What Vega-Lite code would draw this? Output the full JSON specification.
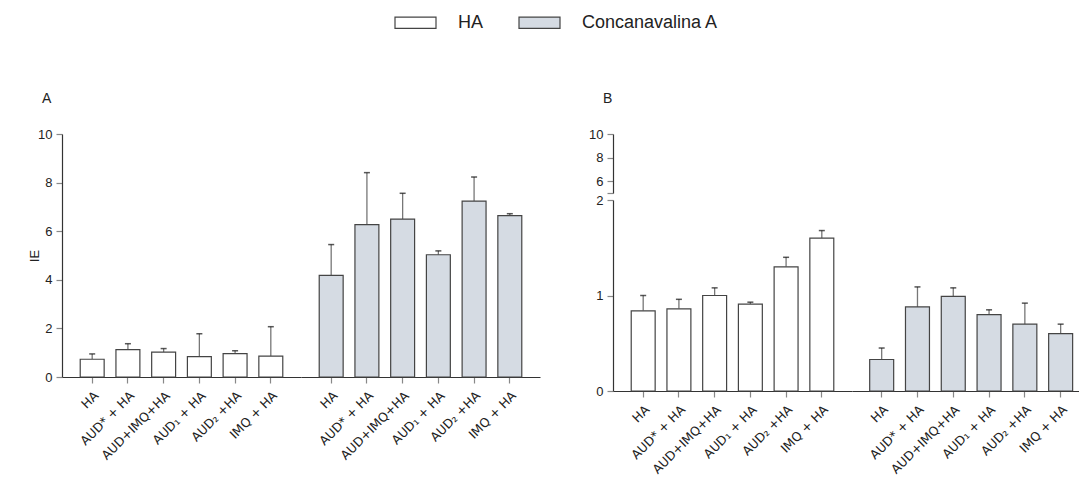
{
  "$schema": "https://vega.github.io/schema/vega-lite/v6.json",
  "padding": {"left": 28, "top": 1, "right": 0, "bottom": 0},
  "background": "white",
  "config": {
    "view": {"stroke": null},
    "font": "Liberation Sans",
    "axis": {"labelFont": "Liberation Sans, DejaVu Sans", "labelFontSize": 13, "labelColor": "#222", "tickColor": "#888", "tickWidth": 1.2, "domainColor": "#333", "domainWidth": 1.2, "tickSize": 6, "grid": false, "titleFont": "Liberation Sans", "titleFontWeight": "normal", "titleFontSize": 13, "titleColor": "#222"},
    "axisX": {"labelAngle": -45, "labelPadding": 6, "labelFont": "DejaVu Sans", "labelFontSize": 12.5},
    "axisY": {"labelPadding": 4},
    "legend": {"padding": 0, "labelFont": "Liberation Sans", "labelFontSize": 18, "labelColor": "#222"},
    "title": {"font": "Liberation Sans", "fontSize": 14, "fontWeight": "normal", "color": "#222"}
  },
  "data": {"values": [
    {"panel": "A", "group": "HA", "treatment": "HA", "IE": 0.73, "upper": 0.95},
    {"panel": "A", "group": "HA", "treatment": "AUD* + HA", "IE": 1.13, "upper": 1.37},
    {"panel": "A", "group": "HA", "treatment": "AUD+IMQ+HA", "IE": 1.02, "upper": 1.17},
    {"panel": "A", "group": "HA", "treatment": "AUD₁ + HA", "IE": 0.84, "upper": 1.78},
    {"panel": "A", "group": "HA", "treatment": "AUD₂ +HA", "IE": 0.96, "upper": 1.08},
    {"panel": "A", "group": "HA", "treatment": "IMQ + HA", "IE": 0.86, "upper": 2.07},
    {"panel": "A", "group": "Concanavalina A", "treatment": "HA", "IE": 4.18, "upper": 5.45},
    {"panel": "A", "group": "Concanavalina A", "treatment": "AUD* + HA", "IE": 6.27, "upper": 8.41},
    {"panel": "A", "group": "Concanavalina A", "treatment": "AUD+IMQ+HA", "IE": 6.5, "upper": 7.56},
    {"panel": "A", "group": "Concanavalina A", "treatment": "AUD₁ + HA", "IE": 5.03, "upper": 5.19},
    {"panel": "A", "group": "Concanavalina A", "treatment": "AUD₂ +HA", "IE": 7.24, "upper": 8.23},
    {"panel": "A", "group": "Concanavalina A", "treatment": "IMQ + HA", "IE": 6.64, "upper": 6.72},
    {"panel": "B", "group": "HA", "treatment": "HA", "IE": 0.84, "upper": 1.0},
    {"panel": "B", "group": "HA", "treatment": "AUD* + HA", "IE": 0.86, "upper": 0.96},
    {"panel": "B", "group": "HA", "treatment": "AUD+IMQ+HA", "IE": 1.0, "upper": 1.08},
    {"panel": "B", "group": "HA", "treatment": "AUD₁ + HA", "IE": 0.91, "upper": 0.93},
    {"panel": "B", "group": "HA", "treatment": "AUD₂ +HA", "IE": 1.3, "upper": 1.4},
    {"panel": "B", "group": "HA", "treatment": "IMQ + HA", "IE": 1.6, "upper": 1.68},
    {"panel": "B", "group": "Concanavalina A", "treatment": "HA", "IE": 0.33, "upper": 0.45},
    {"panel": "B", "group": "Concanavalina A", "treatment": "AUD* + HA", "IE": 0.88, "upper": 1.09},
    {"panel": "B", "group": "Concanavalina A", "treatment": "AUD+IMQ+HA", "IE": 0.99, "upper": 1.08},
    {"panel": "B", "group": "Concanavalina A", "treatment": "AUD₁ + HA", "IE": 0.8, "upper": 0.85},
    {"panel": "B", "group": "Concanavalina A", "treatment": "AUD₂ +HA", "IE": 0.7, "upper": 0.92},
    {"panel": "B", "group": "Concanavalina A", "treatment": "IMQ + HA", "IE": 0.6, "upper": 0.7}
  ]},
  "hconcat": [
    {
      "title": {"text": "A", "anchor": "start", "frame": "group", "dx": -20, "offset": 22},
      "hconcat": [
        {
          "width": 239, "height": 243,
          "transform": [{"filter": "datum.panel == 'A' && datum.group == 'HA'"}],
          "encoding": {"x": {"field": "treatment", "type": "nominal", "title": null, "scale": {"domain": ["HA", "AUD* + HA", "AUD+IMQ+HA", "AUD₁ + HA", "AUD₂ +HA", "IMQ + HA"], "paddingInner": 0.33, "paddingOuter": 0.51}}},
          "layer": [
            {"mark": {"type": "rule", "color": "#777", "strokeWidth": 1.3}, "encoding": {"y": {"field": "IE", "type": "quantitative", "scale": {"domain": [0, 10], "nice": false}, "axis": {"values": [0, 2, 4, 6, 8, 10], "titleX": -21, "titleY": 121.5}, "title": "IE"}, "y2": {"field": "upper"}}},
            {"mark": {"type": "tick", "color": "#111", "size": 6, "thickness": 1.5}, "encoding": {"y": {"field": "upper", "type": "quantitative", "scale": {"domain": [0, 10], "nice": false}, "title": "IE"}}},
            {"mark": {"type": "bar", "stroke": "#444", "strokeWidth": 1.2}, "encoding": {"y": {"field": "IE", "type": "quantitative", "scale": {"domain": [0, 10], "nice": false}, "title": "IE"}, "fill": {"field": "group", "type": "nominal", "scale": {"domain": ["HA", "Concanavalina A"], "range": ["#ffffff", "#d5dbe3"]}, "legend": {"title": null, "orient": "none", "direction": "horizontal", "legendX": 332, "legendY": -133, "symbolType": "M-1,-0.27H1V0.27H-1Z", "symbolSize": 1681, "symbolStrokeColor": "#444", "symbolStrokeWidth": 1.2, "labelOffset": 21, "columnPadding": 32}}}}
          ]
        },
        {
          "width": 239, "height": 243,
          "transform": [{"filter": "datum.panel == 'A' && datum.group == 'Concanavalina A'"}],
          "encoding": {"x": {"field": "treatment", "type": "nominal", "title": null, "scale": {"domain": ["HA", "AUD* + HA", "AUD+IMQ+HA", "AUD₁ + HA", "AUD₂ +HA", "IMQ + HA"], "paddingInner": 0.33, "paddingOuter": 0.51}}},
          "layer": [
            {"mark": {"type": "rule", "color": "#777", "strokeWidth": 1.3}, "encoding": {"y": {"field": "IE", "type": "quantitative", "scale": {"domain": [0, 10], "nice": false}, "axis": null}, "y2": {"field": "upper"}}},
            {"mark": {"type": "tick", "color": "#111", "size": 6, "thickness": 1.5}, "encoding": {"y": {"field": "upper", "type": "quantitative", "scale": {"domain": [0, 10], "nice": false}, "axis": null}}},
            {"mark": {"type": "bar", "stroke": "#444", "strokeWidth": 1.2}, "encoding": {"y": {"field": "IE", "type": "quantitative", "scale": {"domain": [0, 10], "nice": false}, "axis": null}, "fill": {"field": "group", "type": "nominal", "scale": {"domain": ["HA", "Concanavalina A"], "range": ["#ffffff", "#d5dbe3"]}, "legend": {"title": null, "orient": "none", "direction": "horizontal", "legendX": 332, "legendY": -133, "symbolType": "M-1,-0.27H1V0.27H-1Z", "symbolSize": 1681, "symbolStrokeColor": "#444", "symbolStrokeWidth": 1.2, "labelOffset": 21, "columnPadding": 32}}}}
          ]
        }
      ],
      "spacing": 0,
      "bounds": "flush"
    },
    {
      "title": {"text": "B", "anchor": "start", "frame": "group", "dx": -10, "offset": 22},
      "columns": 2,
      "spacing": {"row": 7, "column": 0},
      "bounds": "flush",
      "concat": [
        {
          "width": 239, "height": 59,
          "mark": {"type": "rule", "opacity": 0},
          "encoding": {"y": {"datum": 6, "type": "quantitative", "scale": {"domain": [5, 10], "nice": false}, "axis": {"values": [5, 6, 8, 10], "labelExpr": "datum.value == 5 ? '' : datum.label", "title": null}}}
        },
        {
          "width": 228, "height": 59,
          "mark": {"type": "rule", "opacity": 0},
          "encoding": {"y": {"datum": 6, "type": "quantitative", "scale": {"domain": [5, 10], "nice": false}, "axis": null}}
        },
        {
          "width": 239, "height": 191,
          "transform": [{"filter": "datum.panel == 'B' && datum.group == 'HA'"}],
          "encoding": {"x": {"field": "treatment", "type": "nominal", "title": null, "scale": {"domain": ["HA", "AUD* + HA", "AUD+IMQ+HA", "AUD₁ + HA", "AUD₂ +HA", "IMQ + HA"], "paddingInner": 0.33, "paddingOuter": 0.51}}},
          "layer": [
            {"mark": {"type": "rule", "color": "#777", "strokeWidth": 1.3}, "encoding": {"y": {"field": "IE", "type": "quantitative", "scale": {"domain": [0, 2], "nice": false}, "axis": {"values": [0, 1, 2], "format": ".0f"}, "title": null}, "y2": {"field": "upper"}}},
            {"mark": {"type": "tick", "color": "#111", "size": 6, "thickness": 1.5}, "encoding": {"y": {"field": "upper", "type": "quantitative", "scale": {"domain": [0, 2], "nice": false}, "title": null}}},
            {"mark": {"type": "bar", "stroke": "#444", "strokeWidth": 1.2}, "encoding": {"y": {"field": "IE", "type": "quantitative", "scale": {"domain": [0, 2], "nice": false}, "title": null}, "fill": {"field": "group", "type": "nominal", "scale": {"domain": ["HA", "Concanavalina A"], "range": ["#ffffff", "#d5dbe3"]}, "legend": {"title": null, "orient": "none", "direction": "horizontal", "legendX": 332, "legendY": -133, "symbolType": "M-1,-0.27H1V0.27H-1Z", "symbolSize": 1681, "symbolStrokeColor": "#444", "symbolStrokeWidth": 1.2, "labelOffset": 21, "columnPadding": 32}}}}
          ]
        },
        {
          "width": 228, "height": 191,
          "transform": [{"filter": "datum.panel == 'B' && datum.group == 'Concanavalina A'"}],
          "encoding": {"x": {"field": "treatment", "type": "nominal", "title": null, "scale": {"domain": ["HA", "AUD* + HA", "AUD+IMQ+HA", "AUD₁ + HA", "AUD₂ +HA", "IMQ + HA"], "paddingInner": 0.33, "paddingOuter": 0.35, "align": 0.706}}},
          "layer": [
            {"mark": {"type": "rule", "color": "#777", "strokeWidth": 1.3}, "encoding": {"y": {"field": "IE", "type": "quantitative", "scale": {"domain": [0, 2], "nice": false}, "axis": null}, "y2": {"field": "upper"}}},
            {"mark": {"type": "tick", "color": "#111", "size": 6, "thickness": 1.5}, "encoding": {"y": {"field": "upper", "type": "quantitative", "scale": {"domain": [0, 2], "nice": false}, "axis": null}}},
            {"mark": {"type": "bar", "stroke": "#444", "strokeWidth": 1.2}, "encoding": {"y": {"field": "IE", "type": "quantitative", "scale": {"domain": [0, 2], "nice": false}, "axis": null}, "fill": {"field": "group", "type": "nominal", "scale": {"domain": ["HA", "Concanavalina A"], "range": ["#ffffff", "#d5dbe3"]}, "legend": {"title": null, "orient": "none", "direction": "horizontal", "legendX": 332, "legendY": -133, "symbolType": "M-1,-0.27H1V0.27H-1Z", "symbolSize": 1681, "symbolStrokeColor": "#444", "symbolStrokeWidth": 1.2, "labelOffset": 21, "columnPadding": 32}}}}
          ]
        }
      ]
    }
  ],
  "spacing": 48
}
